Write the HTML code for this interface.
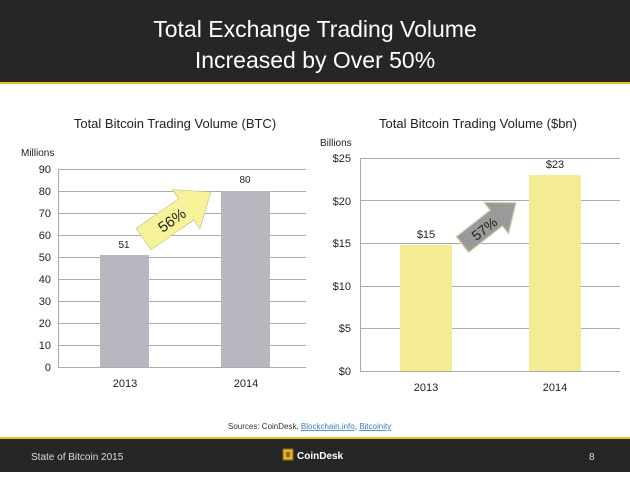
<!DOCTYPE html>
<html><head><meta charset="utf-8"><style>
body{margin:0;width:630px;height:472px;overflow:hidden;background:#fff;font-family:"Liberation Sans",sans-serif}
</style></head><body>
<svg width="630" height="472" xmlns="http://www.w3.org/2000/svg" font-family="Liberation Sans, sans-serif">
<rect x="0" y="0" width="630" height="82" fill="#262626"/>
<rect x="0" y="82" width="630" height="2" fill="#e8c020"/>
<text x="315" y="37" text-anchor="middle" fill="#fff" font-size="23">Total Exchange Trading Volume</text>
<text x="315" y="68" text-anchor="middle" fill="#fff" font-size="23">Increased by Over 50%</text>

<text x="175" y="128" text-anchor="middle" font-size="13" fill="#222">Total Bitcoin Trading Volume (BTC)</text>
<text x="21" y="156" font-size="10" fill="#222">Millions</text>
<g stroke="#aaa" stroke-width="1">
<line x1="58" y1="169.5" x2="306" y2="169.5"/><line x1="58" y1="191.5" x2="306" y2="191.5"/>
<line x1="58" y1="213.5" x2="306" y2="213.5"/><line x1="58" y1="235.5" x2="306" y2="235.5"/>
<line x1="58" y1="257.5" x2="306" y2="257.5"/><line x1="58" y1="279.5" x2="306" y2="279.5"/>
<line x1="58" y1="301.5" x2="306" y2="301.5"/><line x1="58" y1="323.5" x2="306" y2="323.5"/>
<line x1="58" y1="345.5" x2="306" y2="345.5"/><line x1="58" y1="367.5" x2="306" y2="367.5"/>
<line x1="58.5" y1="169" x2="58.5" y2="367"/>
</g>
<g font-size="11" fill="#222" text-anchor="end">
<text x="51" y="173">90</text><text x="51" y="195">80</text><text x="51" y="217">70</text><text x="51" y="239">60</text><text x="51" y="261">50</text><text x="51" y="283">40</text><text x="51" y="305">30</text><text x="51" y="327">20</text><text x="51" y="349">10</text><text x="51" y="371">0</text>
</g>
<rect x="100" y="255" width="49" height="112" fill="#b8b6be"/>
<rect x="221" y="191" width="49" height="176" fill="#b8b6be"/>
<text x="124" y="248" text-anchor="middle" font-size="10" fill="#222">51</text>
<text x="245" y="183" text-anchor="middle" font-size="10" fill="#222">80</text>
<text x="125" y="387" text-anchor="middle" font-size="11" fill="#222">2013</text>
<text x="246" y="387" text-anchor="middle" font-size="11" fill="#222">2014</text>
<g transform="translate(178,215) rotate(-35)">
<polygon points="-42,-13 10,-13 10,-24 40,0 10,24 10,13 -42,13" fill="#f7f39a" stroke="#c9c48a" stroke-width="0.7"/>
<text x="-8" y="6" text-anchor="middle" font-size="15" fill="#222">56%</text>
</g>

<text x="478" y="128" text-anchor="middle" font-size="13" fill="#222">Total Bitcoin Trading Volume ($bn)</text>
<text x="320" y="146" font-size="10" fill="#222">Billions</text>
<g stroke="#aaa" stroke-width="1">
<line x1="360" y1="158.5" x2="620" y2="158.5"/><line x1="360" y1="200.5" x2="620" y2="200.5"/>
<line x1="360" y1="243.5" x2="620" y2="243.5"/><line x1="360" y1="286.5" x2="620" y2="286.5"/>
<line x1="360" y1="328.5" x2="620" y2="328.5"/><line x1="360" y1="371.5" x2="620" y2="371.5"/>
<line x1="360.5" y1="158" x2="360.5" y2="371"/>
</g>
<g font-size="11" fill="#222" text-anchor="end">
<text x="351" y="162">$25</text><text x="351" y="205">$20</text><text x="351" y="247">$15</text><text x="351" y="290">$10</text><text x="351" y="332">$5</text><text x="351" y="375">$0</text>
</g>
<rect x="400" y="245" width="52" height="126" fill="#f3ec93"/>
<rect x="529" y="175" width="52" height="196" fill="#f3ec93"/>
<text x="426" y="238" text-anchor="middle" font-size="11" fill="#222">$15</text>
<text x="555" y="168" text-anchor="middle" font-size="11" fill="#222">$23</text>
<text x="426" y="391" text-anchor="middle" font-size="11" fill="#222">2013</text>
<text x="555" y="391" text-anchor="middle" font-size="11" fill="#222">2014</text>
<g transform="translate(490,223) rotate(-38)">
<polygon points="-35,-10 8,-10 8,-20 33,0 8,20 8,10 -35,10" fill="#9a9a9a" stroke="#d8d4a8" stroke-width="1.2"/>
<text x="-8" y="6" text-anchor="middle" font-size="14" fill="#222">57%</text>
</g>

<text x="228" y="429" font-size="8" fill="#333">Sources: CoinDesk, <tspan fill="#3a7fc0" text-decoration="underline">Blockchain.info</tspan>, <tspan fill="#3a7fc0" text-decoration="underline">Bitcoinity</tspan></text>
<rect x="0" y="437" width="630" height="2" fill="#e8c020"/>
<rect x="0" y="439" width="630" height="33" fill="#262626"/>
<text x="31" y="460" font-size="10" fill="#ddd">State of Bitcoin 2015</text>
<rect x="283" y="449" width="10" height="11" fill="#e6b422" stroke="#8a6a10" stroke-width="1"/>
<rect x="286" y="452" width="4" height="5" fill="#8a6a10"/>
<text x="297" y="459" font-size="10" font-weight="bold" fill="#fff">CoinDesk</text>
<text x="589" y="460" font-size="10" fill="#ddd">8</text>
</svg>
</body></html>
